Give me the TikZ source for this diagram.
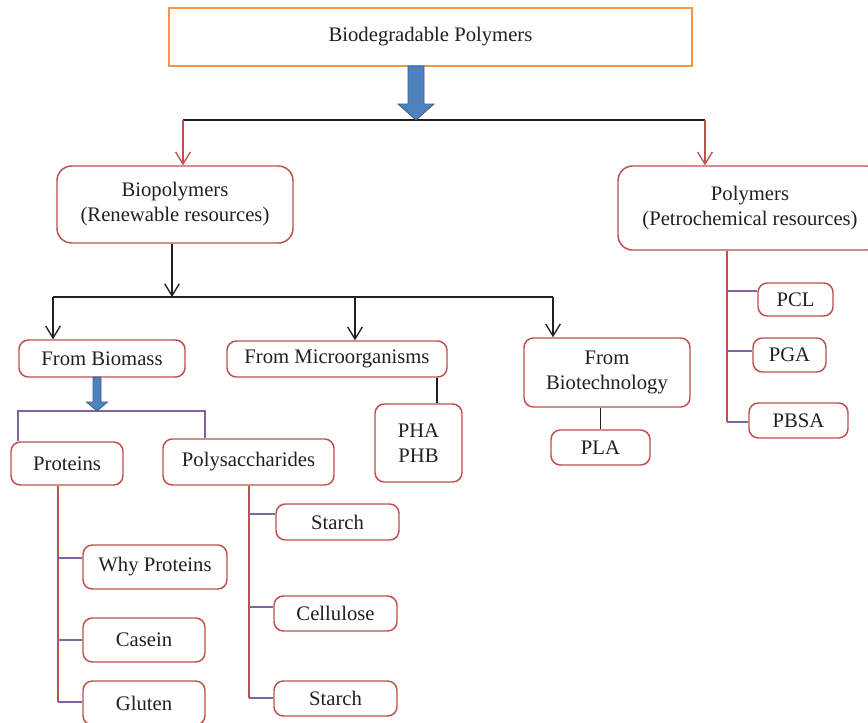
\documentclass[tikz,border=0pt]{standalone}
\usepackage{fontspec}
\setmainfont{Liberation Serif}
\usetikzlibrary{calc,arrows.meta}
\definecolor{boxred}{RGB}{192,80,77}
\definecolor{boxorange}{RGB}{247,150,70}
\definecolor{arrowblue}{RGB}{79,129,189}
\definecolor{arrowedge}{RGB}{56,93,138}
\definecolor{branchpurple}{RGB}{128,100,162}
\definecolor{textgray}{RGB}{35,31,32}
\tikzset{
	boxsize/.style 2 args={minimum width=#1*0.75pt,minimum height=#2*0.75pt},
	box/.style={draw=boxred,line width=1.1pt,rounded corners=7pt,fill=white,align=center,inner sep=0pt,text=textgray,font=\fontsize{15.5}{18.75}\selectfont},
	bigbox/.style={box,rounded corners=11pt},
	topbox/.style={box,draw=boxorange,line width=1.4pt,rounded corners=0pt},
	hline/.style={draw=textgray,line width=1pt},
	trunk/.style={draw=boxred,line width=1pt},
	branch/.style={draw=branchpurple,line width=1pt},
	redarrow/.style={trunk,-{Straight Barb[length=9pt,width=11pt]}},
	blackarrow/.style={hline,-{Straight Barb[length=9pt,width=11pt]}},
	blockarrow/.style={fill=arrowblue,draw=arrowedge,line width=0.6pt},
}
\begin{document}
\begin{tikzpicture}[x=0.75pt,y=-0.75pt]
		\clip (0,0) rectangle (868,722);
		
		% boxes
		\node[topbox,boxsize={523}{58}] (top) at (430.5,37) {Biodegradable Polymers};
		\node[bigbox,boxsize={236}{77}] (bio) at (175,204.5) {Biopolymers\\(Renewable resources)};
		\node[bigbox,boxsize={264}{84}] (petro) at (750,208) {Polymers\\(Petrochemical resources)};
		
		\node[box,boxsize={166}{37}] (biomass) at (102,358.5) {From Biomass};
		\node[box,boxsize={220}{36}] (micro) at (337,359) {From Microorganisms};
		\node[box,boxsize={166}{69}] (biotech) at (607,372.5) {From\\Biotechnology};
		\node[box,boxsize={87}{78}] (pha) at (418.5,443) {PHA\\PHB};
		\node[box,boxsize={99}{35}] (pla) at (600.5,447.5) {PLA};
		
		\node[box,boxsize={75}{33}] (pcl) at (795.5,299.5) {PCL};
		\node[box,boxsize={73}{34}] (pga) at (789.5,355) {PGA};
		\node[box,boxsize={99}{35}] (pbsa) at (798.5,420.5) {PBSA};
		
		\node[box,boxsize={112}{43}] (proteins) at (67,463.5) {Proteins};
		\node[box,boxsize={171}{46}] (polysac) at (248.5,462) {Polysaccharides};
		\node[box,boxsize={144}{44}] (why) at (155,567) {Why Proteins};
		\node[box,boxsize={122}{44}] (casein) at (144,640) {Casein};
		\node[box,boxsize={122}{44}] (gluten) at (144,703) {Gluten};
		\node[box,boxsize={123}{36}] (starcha) at (337.5,522) {Starch};
		\node[box,boxsize={123}{35}] (cellulose) at (335.5,613.5) {Cellulose};
		\node[box,boxsize={123}{35}] (starchb) at (335.5,698.5) {Starch};
		
		% first split
		\coordinate (split) at (416,120);
		\coordinate (lsplit) at (183,120);
		\coordinate (rsplit) at (705,120);
		\draw[hline] (lsplit) -- (rsplit);
		\filldraw[blockarrow] ($(split)+(-8,-54)$) -- ($(split)+(8,-54)$) -- ($(split)+(8,-16)$) -- ($(split)+(18,-16)$) -- (split) -- ($(split)+(-18,-16)$) -- ($(split)+(-8,-16)$) -- cycle;
		\draw[redarrow] (lsplit) -- (lsplit |- bio.north);
		\draw[redarrow] (rsplit) -- (rsplit |- petro.north);
		
		% biopolymers split
		\coordinate (bsplit) at (172,297);
		\coordinate (bleft) at (53,297);
		\coordinate (bmid) at (355,297);
		\coordinate (bright) at (553,297);
		\draw[blackarrow] (bio.south -| bsplit) -- (bsplit);
		\draw[hline] (bleft) -- (bright);
		\draw[blackarrow] (bleft) -- (bleft |- biomass.north);
		\draw[blackarrow] (bmid) -- (bmid |- micro.north);
		\draw[blackarrow] (bright) -- (bright |- biotech.north);
		
		% single children
		\coordinate (mtap) at (437,0);
		\draw[hline] (micro.south -| mtap) -- (pha.north -| mtap);
		\draw[hline] (biotech.south -| pla) -- (pla.north);
		
		% from biomass
		\coordinate (msplit) at (97,411);
		\coordinate (pleft) at (18,411);
		\coordinate (pright) at (205,411);
		\draw[branch] (pleft |- proteins.north) -- (pleft) -- (pright) -- (pright |- polysac.north);
		\filldraw[blockarrow] ($(msplit)+(-4,-34)$) -- ($(msplit)+(4,-34)$) -- ($(msplit)+(4,-9)$) -- ($(msplit)+(10.5,-9)$) -- (msplit) -- ($(msplit)+(-10.5,-9)$) -- ($(msplit)+(-4,-9)$) -- cycle;
		
		% proteins
		\coordinate (ptrunk) at (58,702);
		\coordinate (whytap) at (58,558);
		\coordinate (casetap) at (58,640);
		\draw[trunk] (proteins.south -| ptrunk) -- (ptrunk);
		\draw[branch] (whytap) -- (whytap -| why.west);
		\draw[branch] (casetap) -- (casetap -| casein.west);
		\draw[branch] (ptrunk) -- (ptrunk -| gluten.west);
		
		% polysaccharides
		\coordinate (strunk) at (249,698);
		\coordinate (statap) at (249,514);
		\coordinate (celltap) at (249,607);
		\draw[trunk] (polysac.south -| strunk) -- (strunk);
		\draw[branch] (statap) -- (statap -| starcha.west);
		\draw[branch] (celltap) -- (celltap -| cellulose.west);
		\draw[branch] (strunk) -- (strunk -| starchb.west);
		
		% petrochemical
		\coordinate (rtrunk) at (727,422);
		\coordinate (pcltap) at (727,291);
		\coordinate (pgatap) at (727,351);
		\draw[trunk] (petro.south -| rtrunk) -- (rtrunk);
		\draw[branch] (pcltap) -- (pcltap -| pcl.west);
		\draw[branch] (pgatap) -- (pgatap -| pga.west);
		\draw[branch] (rtrunk) -- (rtrunk -| pbsa.west);
		
		\end{tikzpicture}
\end{document}
